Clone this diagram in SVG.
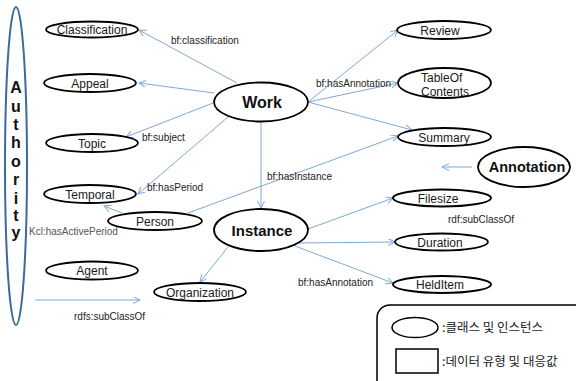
<svg xmlns="http://www.w3.org/2000/svg" width="576" height="381" viewBox="0 0 576 381">
<defs>
<marker id="arr" markerUnits="userSpaceOnUse" markerWidth="10" markerHeight="10" refX="7" refY="3.5" orient="auto">
<path d="M0,0 L7,3.5 L0,7" fill="none" stroke="#7FA7D9" stroke-width="1"/>
</marker>
<style>
.n{fill:#fff;stroke:#000;stroke-width:1.8}
.t{font-family:"Liberation Sans",Arial,sans-serif;font-size:12px;fill:#1a1a1a;text-anchor:middle}
.b{font-family:"Liberation Sans",Arial,sans-serif;font-weight:bold;fill:#111;text-anchor:middle}
.l{font-family:"Liberation Sans",Arial,sans-serif;font-size:10px;fill:#222}
.c{fill:none;stroke:#7FA7D9;stroke-width:1;marker-end:url(#arr)}
.k{font-family:"Noto Sans CJK KR","Liberation Sans",sans-serif;font-size:12.5px;fill:#222}
</style>
</defs>
<rect width="576" height="381" fill="#fff"/>

<g id="connectors">
<path class="c" d="M237,83 L139,30"/>
<path class="c" d="M214,93 L139,83"/>
<path class="c" d="M213,103 L126,137"/>
<path class="c" d="M228,117 L138,194"/>
<path class="c" d="M261,122 L261,208"/>
<path class="c" d="M308,102 L398,30"/>
<path class="c" d="M308,102 L398,83"/>
<path class="c" d="M308,102 L412,130"/>
<path class="c" d="M188,213 L398,136"/>
<path class="c" d="M122,213 L104,206"/>
<path class="c" d="M472,167 L442,167"/>
<path class="c" d="M228,247 L200,282"/>
<path class="c" d="M308,229 L393,198"/>
<path class="c" d="M297,243 L395,242"/>
<path class="c" d="M295,246 L393,283"/>
<path class="c" d="M35,300 L140,300"/>
</g>

<g id="labels">
<text class="l" x="171" y="44">bf:classification</text>
<text class="l" x="142" y="141">bf:subject</text>
<text class="l" x="147" y="191">bf:hasPeriod</text>
<text class="l" x="267" y="180">bf:hasInstance</text>
<text class="l" x="316" y="87">bf:hasAnnotation</text>
<text class="l" x="29" y="235" fill="#555" style="fill:#555">Kcl:hasActivePeriod</text>
<text class="l" x="74" y="320">rdfs:subClassOf</text>
<text class="l" x="448" y="223">rdf:subClassOf</text>
<text class="l" x="298" y="286">bf:hasAnnotation</text>
</g>

<g id="authority">
<ellipse cx="16" cy="166" rx="11" ry="159" fill="none" stroke="#3E6A9C" stroke-width="2"/>
<text class="b" font-size="16" x="16" y="93">A</text>
<text class="b" font-size="16" x="16" y="112">u</text>
<text class="b" font-size="16" x="16" y="130">t</text>
<text class="b" font-size="16" x="16" y="148">h</text>
<text class="b" font-size="16" x="16" y="167">o</text>
<text class="b" font-size="16" x="16" y="185">r</text>
<text class="b" font-size="16" x="16" y="204">i</text>
<text class="b" font-size="16" x="16" y="221">t</text>
<text class="b" font-size="16" x="16" y="238">y</text>
</g>

<g id="classification"><ellipse class="n" cx="92" cy="29.5" rx="46" ry="8"/><text class="t" x="92" y="34">Classification</text></g>
<g id="appeal"><ellipse class="n" cx="90" cy="83" rx="46" ry="9"/><text class="t" x="90" y="87.5">Appeal</text></g>
<g id="topic"><ellipse class="n" cx="92" cy="143" rx="46" ry="9"/><text class="t" x="92" y="147.5">Topic</text></g>
<g id="temporal"><ellipse class="n" cx="90" cy="194" rx="46" ry="9"/><text class="t" x="90" y="198.5">Temporal</text></g>
<g id="person"><ellipse class="n" cx="155" cy="221" rx="47" ry="9"/><text class="t" x="155" y="225.5">Person</text></g>
<g id="agent"><ellipse class="n" cx="92" cy="270.5" rx="46" ry="9"/><text class="t" x="92" y="275">Agent</text></g>
<g id="organization"><ellipse class="n" cx="200" cy="292" rx="46" ry="9"/><text class="t" x="200" y="296.5">Organization</text></g>
<g id="work"><ellipse class="n" cx="261" cy="102" rx="47" ry="19.5"/><text class="b" font-size="16" x="262" y="108">Work</text></g>
<g id="instance"><ellipse class="n" cx="261" cy="230" rx="47" ry="21"/><text class="b" font-size="15" x="262" y="235.5">Instance</text></g>
<g id="review"><ellipse class="n" cx="444" cy="30" rx="47" ry="9"/><text class="t" x="440" y="34.5">Review</text></g>
<g id="tableofcontents"><ellipse class="n" cx="444.5" cy="83" rx="46.5" ry="15"/><text class="t" x="421" y="82" style="text-anchor:start">TableOf</text><text class="t" x="421" y="96" style="text-anchor:start">Contents</text></g>
<g id="summary"><ellipse class="n" cx="444.5" cy="137" rx="46.5" ry="9"/><text class="t" x="444" y="141.5">Summary</text></g>
<g id="annotation"><ellipse class="n" cx="524" cy="167" rx="46" ry="20"/><text class="b" font-size="14.5" x="527" y="172">Annotation</text></g>
<g id="filesize"><ellipse class="n" cx="442" cy="198" rx="49" ry="8.5"/><text class="t" x="438" y="202.5">Filesize</text></g>
<g id="duration"><ellipse class="n" cx="441.5" cy="242" rx="46.5" ry="8.5"/><text class="t" x="440" y="246.5">Duration</text></g>
<g id="helditem"><ellipse class="n" cx="442" cy="284.5" rx="49" ry="8.5"/><text class="t" x="440" y="289">HeldItem</text></g>

<g id="legend">
<rect x="377" y="305" width="212" height="92" rx="13" fill="#fff" stroke="#000" stroke-width="1.5"/>
<ellipse cx="415" cy="327.5" rx="23" ry="10" fill="#fff" stroke="#000" stroke-width="1.5"/>
<text class="k" x="442" y="332">:클래스 및 인스턴스</text>
<rect x="396" y="349" width="42" height="24" fill="#fff" stroke="#000" stroke-width="1.5"/>
<text class="k" x="442" y="366">:데이터 유형 및 대응값</text>
</g>
</svg>
